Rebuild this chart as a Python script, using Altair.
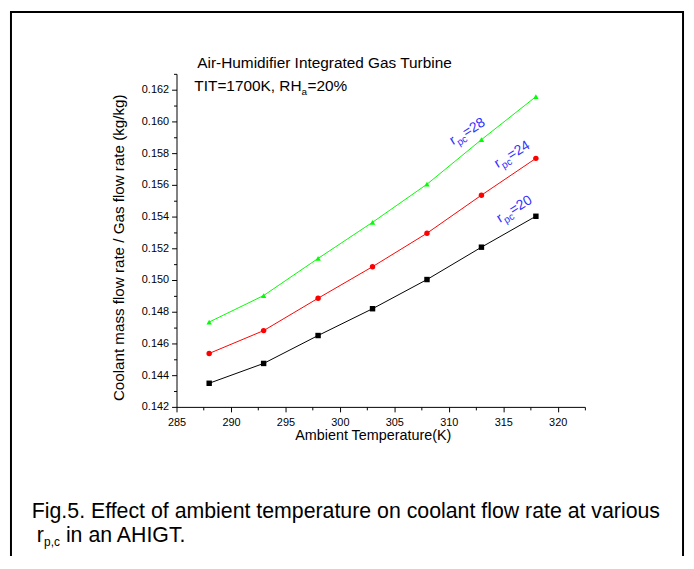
import altair as alt
import pandas as pd

# ---- data ----
temps = [288, 293, 298, 303, 308, 313, 318]
r20 = [0.14349, 0.14474, 0.14650, 0.14819, 0.15003, 0.15207, 0.15402]
r24 = [0.14537, 0.14681, 0.14885, 0.15084, 0.15295, 0.15535, 0.15767]
r28 = [0.14735, 0.14902, 0.15136, 0.15364, 0.15604, 0.15885, 0.16156]
series_names = ["20", "24", "28"]
series_colors = ["#000000", "#ff0000", "#00ff00"]
series_shapes = ["square", "circle", "triangle-up"]

x_ticks = [285 + 2.5 * i for i in range(16)]                 # 285 .. 322.5
y_ticks = [round(0.142 + 0.001 * i, 3) for i in range(22)]   # 0.142 .. 0.163

label_names = ["28", "24", "20"]
label_x = [310.4, 314.5, 314.7]
label_y = [0.15849, 0.15705, 0.15360]

FONT = "Liberation Sans"

rows = []
for name, vals in zip(series_names, [r20, r24, r28]):
    for t, v in zip(temps, vals):
        rows.append({"T": t, "v": v, "s": name})
df = pd.DataFrame(rows)

lab = pd.DataFrame({"x": label_x, "y": label_y, "n": ["=" + n for n in label_names]})

W, H = 412, 336

xscale = alt.Scale(domain=[285, 322.5], nice=False, zero=False)
yscale = alt.Scale(domain=[0.142, 0.163], nice=False, zero=False)

Y_MAJOR = "abs(datum.value*500 - round(datum.value*500)) < 0.01"

xaxis = alt.Axis(
    values=x_ticks,
    labelExpr="datum.value % 5 == 0 ? datum.label : ''",
    tickSize={"condition": {"test": "datum.value % 5 == 0", "value": 5}, "value": 3},
    grid=False, domainColor="black", tickColor="black",
    labelFont=FONT, labelFontSize=11, labelColor="black", labelPadding=5,
    title="Ambient Temperature(K)", titleFont=FONT, titleFontSize=14.5,
    titleFontWeight="normal", titleColor="black", titlePadding=1, titleX=198,
    labelFlush=False, labelOverlap=False,
)
yaxis = alt.Axis(
    values=y_ticks,
    labelExpr=Y_MAJOR + " ? format(datum.value, '.3f') : ''",
    tickSize={"condition": {"test": Y_MAJOR, "value": 5}, "value": 3},
    grid=False, domainColor="black", tickColor="black",
    labelFont=FONT, labelFontSize=11, labelColor="black", labelPadding=3,
    title="Coolant mass flow rate / Gas flow rate (kg/kg)", titleFont=FONT,
    titleFontSize=15.3, titleFontWeight="normal", titleColor="black", titlePadding=15,
    titleY=175,
    labelFlush=False, labelOverlap=False, labelSeparation=0,
)

color = alt.Color("s:N", scale=alt.Scale(domain=series_names, range=series_colors), legend=None)
shape = alt.Shape("s:N", scale=alt.Scale(domain=series_names, range=series_shapes), legend=None)

base = alt.Chart(df)
lines = base.mark_line(strokeWidth=1).encode(
    x=alt.X("T:Q", scale=xscale, axis=xaxis),
    y=alt.Y("v:Q", scale=yscale, axis=yaxis),
    color=color,
    detail="s:N",
)
points = base.mark_point(filled=True, size=30, opacity=1).encode(
    x=alt.X("T:Q", scale=xscale, axis=xaxis),
    y=alt.Y("v:Q", scale=yscale, axis=yaxis),
    color=color,
    shape=shape,
)

ANG = 328
BLUE = "#3030ff"
LF = 14
lab_base = alt.Chart(lab)
lx = alt.X("x:Q", scale=xscale, axis=xaxis)
ly = alt.Y("y:Q", scale=yscale, axis=yaxis)
lab_r = lab_base.mark_text(align="left", baseline="alphabetic", angle=ANG, font=FONT,
                           fontSize=LF, color=BLUE, dx=0, dy=0).encode(
    x=lx, y=ly, text=alt.value("r"))
lab_pc = lab_base.mark_text(align="left", baseline="alphabetic", angle=ANG, font=FONT,
                            fontSize=10, color=BLUE, dx=5, dy=4).encode(
    x=lx, y=ly, text=alt.value("pc"))
lab_n = lab_base.mark_text(align="left", baseline="alphabetic", angle=ANG, font=FONT,
                           fontSize=LF, color=BLUE, dx=15.5, dy=0).encode(
    x=lx, y=ly, text="n:N")

# ---- header / caption text (pixel positions relative to plot origin) ----
def txt(s, x, y, size, dy=0):
    return alt.Chart(pd.DataFrame({"t": [s]})).mark_text(
        align="left", baseline="alphabetic", font=FONT, fontSize=size, color="black", dy=dy
    ).encode(x=alt.value(x), y=alt.value(y), text="t:N")

TS = 15.5
title1 = txt("Air-Humidifier Integrated Gas Turbine", 21, -5.5, TS)
tit_a = txt("TIT=1700K, RH", 18, 17.5, TS)
tit_b = txt("a", 18 + 6.975 * TS, 17.5, 10, dy=4)
tit_c = txt("=20%", 18 + 6.975 * TS + 6, 17.5, TS)

CS = 21.5
cap1 = txt("Fig.5. Effect of ambient temperature on coolant flow rate at various", -146, 448, CS)
cap2a = txt("r", -141, 472, CS)
cap2b = txt("p,c", -141 + 7.4, 472, 12, dy=4)
cap2c = txt("in an AHIGT.", -141 + 7.4 + 16.5 + 5.5, 472, CS)

# ---- outer frame ----
def rule(**kw):
    return alt.Chart(pd.DataFrame({"a": [0]})).mark_rule(color="black", strokeWidth=2).encode(**kw)

fr_top = rule(x=alt.value(-167), x2=alt.value(511), y=alt.value(-62.5))
fr_left = rule(x=alt.value(-167), y=alt.value(-63.5), y2=alt.value(520))
fr_right = rule(x=alt.value(511), y=alt.value(-63.5), y2=alt.value(520))

chart = alt.layer(
    lines, points, lab_r, lab_pc, lab_n,
    title1, tit_a, tit_b, tit_c, cap1, cap2a, cap2b, cap2c,
    fr_top, fr_left, fr_right,
).properties(
    width=W, height=H,
    autosize=alt.AutoSizeParams(type="none"),
    padding={"left": 170, "top": 64, "right": 102, "bottom": 148},
    background="white",
).configure_view(strokeWidth=0)

chart.save("out.html", embed_options={"renderer": "svg", "actions": False})
